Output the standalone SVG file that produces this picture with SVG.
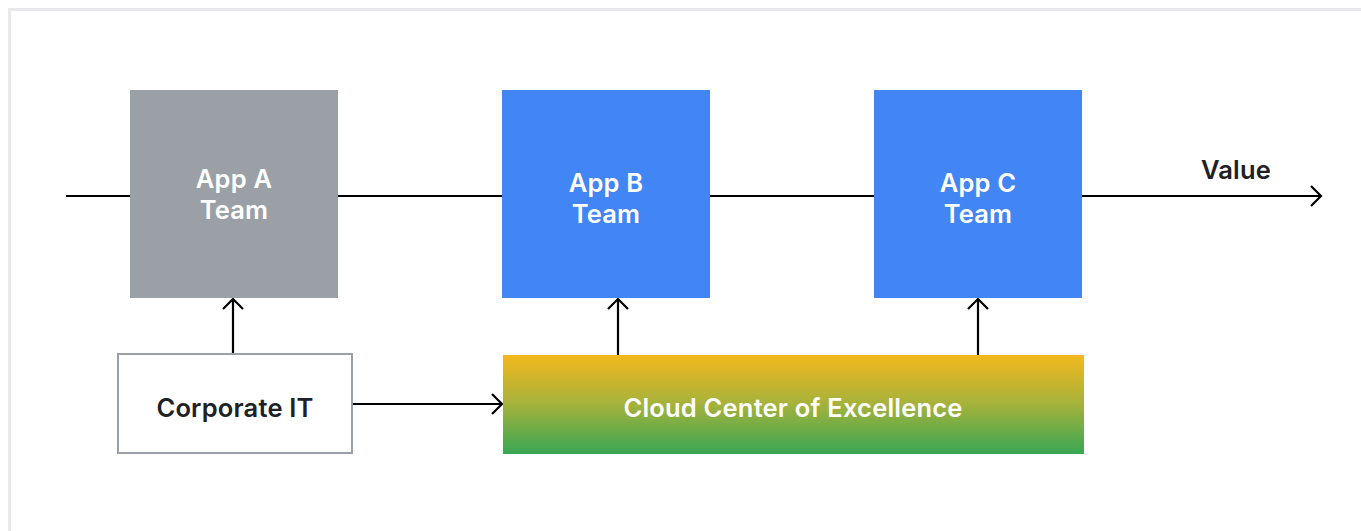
<svg xmlns="http://www.w3.org/2000/svg" width="1361" height="531" viewBox="0 0 1361 531">
<style>
.lbl{font-family:"Inter","Open Sans","Liberation Sans",sans-serif;font-weight:600;font-size:25.5px;text-anchor:middle;letter-spacing:0.2px}
.w{fill:#ffffff}
.d{fill:#202124}
.ln{stroke:#000;stroke-width:2.2;fill:none}
</style>
<defs>
<linearGradient id="g" x1="0" y1="0" x2="0" y2="1">
<stop offset="0" stop-color="#f3b81c"/>
<stop offset="0.5" stop-color="#a5b23c"/>
<stop offset="1" stop-color="#37a652"/>
</linearGradient>
<marker id="ah" markerWidth="14" markerHeight="22" refX="12" refY="11" orient="auto" markerUnits="userSpaceOnUse">
<path d="M2,1 L12,11 L2,21" fill="none" stroke="#000" stroke-width="2.2"/>
</marker>
</defs>
<rect x="0" y="0" width="1361" height="531" fill="#fff"/>
<rect id="frame" x="9.5" y="9.5" width="1400" height="600" fill="#fff" stroke="#e8e8ec" stroke-width="3"/>
<g id="connectors">
<line class="ln" x1="66" y1="196" x2="130" y2="196"/>
<line class="ln" x1="338" y1="196" x2="502" y2="196"/>
<line class="ln" x1="710" y1="196" x2="874" y2="196"/>
<line class="ln" x1="1082" y1="196" x2="1321" y2="196" marker-end="url(#ah)"/>
<line class="ln" x1="233" y1="353" x2="233" y2="299" marker-end="url(#ah)"/>
<line class="ln" x1="618" y1="355" x2="618" y2="299" marker-end="url(#ah)"/>
<line class="ln" x1="978" y1="355" x2="978" y2="299" marker-end="url(#ah)"/>
<line class="ln" x1="353" y1="404" x2="502" y2="404" marker-end="url(#ah)"/>
</g>
<g id="appA">
<rect x="130" y="90" width="208" height="208" fill="#9aa0a6"/>
<text class="lbl w" x="234" y="188">App A</text>
<text class="lbl w" x="234" y="219">Team</text>
</g>
<g id="appB">
<rect x="502" y="90" width="208" height="208" fill="#4285f4"/>
<text class="lbl w" x="606" y="192">App B</text>
<text class="lbl w" x="606" y="223">Team</text>
</g>
<g id="appC">
<rect x="874" y="90" width="208" height="208" fill="#4285f4"/>
<text class="lbl w" x="978" y="192">App C</text>
<text class="lbl w" x="978" y="223">Team</text>
</g>
<g id="value">
<text class="lbl d" x="1236" y="179">Value</text>
</g>
<g id="corpIT">
<rect x="118" y="354" width="234" height="99" fill="#fff" stroke="#9aa0a6" stroke-width="2"/>
<text class="lbl d" x="235" y="417">Corporate IT</text>
</g>
<g id="ccoe">
<rect x="503" y="355" width="581" height="99" fill="url(#g)"/>
<text class="lbl w" x="793" y="417">Cloud Center of Excellence</text>
</g>
</svg>
